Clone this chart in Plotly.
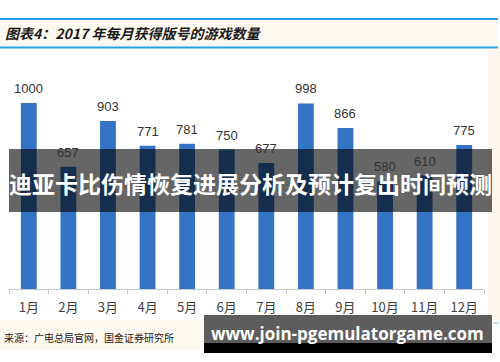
import plotly.graph_objects as go

months = ["1月", "2月", "3月", "4月", "5月", "6月", "7月", "8月", "9月", "10月", "11月", "12月"]
games = [1000, 657, 903, 771, 781, 750, 677, 998, 866, 580, 610, 775]

title_text = "图表4：2017 年每月获得版号的游戏数量"
source_text = "来源：广电总局官网，国金证券研究所"
overlay_text = "迪亚卡比伤情恢复进展分析及预计复出时间预测"
site_text = "www.join-pgemulatorgame.com"

W, H = 500, 362
L, R, T, B = 9, 16, 48, 73
PW, PH = W - L - R, H - T - B


def px(x):
    return (x - L) / PW


def py(y):
    return (H - B - y) / PH


fig = go.Figure()
fig.add_trace(go.Bar(
    x=months, y=games, width=0.4,
    marker=dict(color="#3573c4", line=dict(width=0)),
    cliponaxis=False,
))

shapes = []
# title band
shapes.append(dict(type="rect", xref="paper", yref="paper", x0=px(0), x1=px(498), y0=py(47), y1=py(20),
                   fillcolor="#fdf9f1", line=dict(width=0), layer="below"))
shapes.append(dict(type="line", xref="paper", yref="paper", x0=px(0), x1=px(498), y0=py(19), y1=py(19),
                   line=dict(color="#2a9fe0", width=2)))
shapes.append(dict(type="line", xref="paper", yref="paper", x0=px(0), x1=px(498), y0=py(47.5), y1=py(47.5),
                   line=dict(color="#2a9fe0", width=2)))
# right beige strip
shapes.append(dict(type="rect", xref="paper", yref="paper", x0=px(488), x1=px(500), y0=py(320), y1=py(48.5),
                   fillcolor="#fcf7ee", line=dict(width=0), layer="below"))
# source beige band
shapes.append(dict(type="rect", xref="paper", yref="paper", x0=px(0), x1=px(205), y0=py(350), y1=py(320),
                   fillcolor="#fdf9f1", line=dict(width=0), layer="below"))
# overlay band
shapes.append(dict(type="rect", xref="paper", yref="paper", x0=px(9), x1=px(492), y0=py(212), y1=py(149),
                   fillcolor="rgba(0,0,0,0.6)", line=dict(width=0), layer="above"))
# bottom site box
shapes.append(dict(type="rect", xref="paper", yref="paper", x0=px(204), x1=px(492), y0=py(343), y1=py(315),
                   fillcolor="#5d5d5d", line=dict(width=0), layer="above"))
shapes.append(dict(type="rect", xref="paper", yref="paper", x0=px(204), x1=px(492), y0=py(353), y1=py(343),
                   fillcolor="#000000", line=dict(width=0), layer="above"))
shapes.append(dict(type="line", xref="paper", yref="paper", x0=px(493), x1=px(499), y0=py(323), y1=py(323),
                   line=dict(color="#7cc4ea", width=1)))

annotations = []
# value labels (placed from the data, under the overlay band)
for m, v in zip(months, games):
    annotations.append(dict(text=str(v), x=m, y=v, xref="x", yref="y",
                            xanchor="center", yanchor="bottom", yshift=5, showarrow=False,
                            font=dict(family="Liberation Sans, Arial", size=13, color="#333333")))

annotations += [
    dict(text="<b><i>" + title_text + "</i></b>", xref="paper", yref="paper", x=px(3), y=py(33),
         xanchor="left", yanchor="middle", showarrow=False,
         font=dict(family="Noto Sans CJK SC", size=14, color="#1a1a1a")),
    dict(text=source_text, xref="paper", yref="paper", x=px(2), y=py(337),
         xanchor="left", yanchor="middle", showarrow=False,
         font=dict(family="Noto Sans CJK SC", size=10, color="#222222")),
    dict(text="<b>" + overlay_text + "</b>", xref="paper", yref="paper", x=px(250), y=py(183),
         xanchor="center", yanchor="middle", showarrow=False,
         font=dict(family="Noto Sans CJK SC", size=23, color="#ffffff")),
    dict(text="<b>" + site_text + "</b>", xref="paper", yref="paper", x=px(347), y=py(333),
         xanchor="center", yanchor="middle", showarrow=False,
         font=dict(family="Open Sans", size=17, color="#ffffff")),
]

fig.update_layout(
    width=W, height=H,
    margin=dict(l=L, r=R, t=T, b=B, pad=0),
    paper_bgcolor="#ffffff", plot_bgcolor="#ffffff",
    showlegend=False,
    shapes=shapes,
    annotations=annotations,
    xaxis=dict(
        type="category", range=[-0.5, 11.5],
        showgrid=False, zeroline=False,
        showline=True, linecolor="#c8c8c8", linewidth=1,
        ticks="outside", tickson="boundaries", ticklen=4, tickcolor="#c8c8c8",
        ticklabelstandoff=6,
        tickfont=dict(family="Noto Sans CJK SC", size=13, color="#404040"),
        fixedrange=True,
    ),
    yaxis=dict(
        range=[0, 1296], visible=False, showgrid=False, zeroline=False, fixedrange=True,
    ),
)

fig.write_html(
    "out.html",
    config={"displayModeBar": False},
    post_script="document.body.style.margin='0';document.body.style.padding='0';document.body.style.overflow='hidden';",
)
